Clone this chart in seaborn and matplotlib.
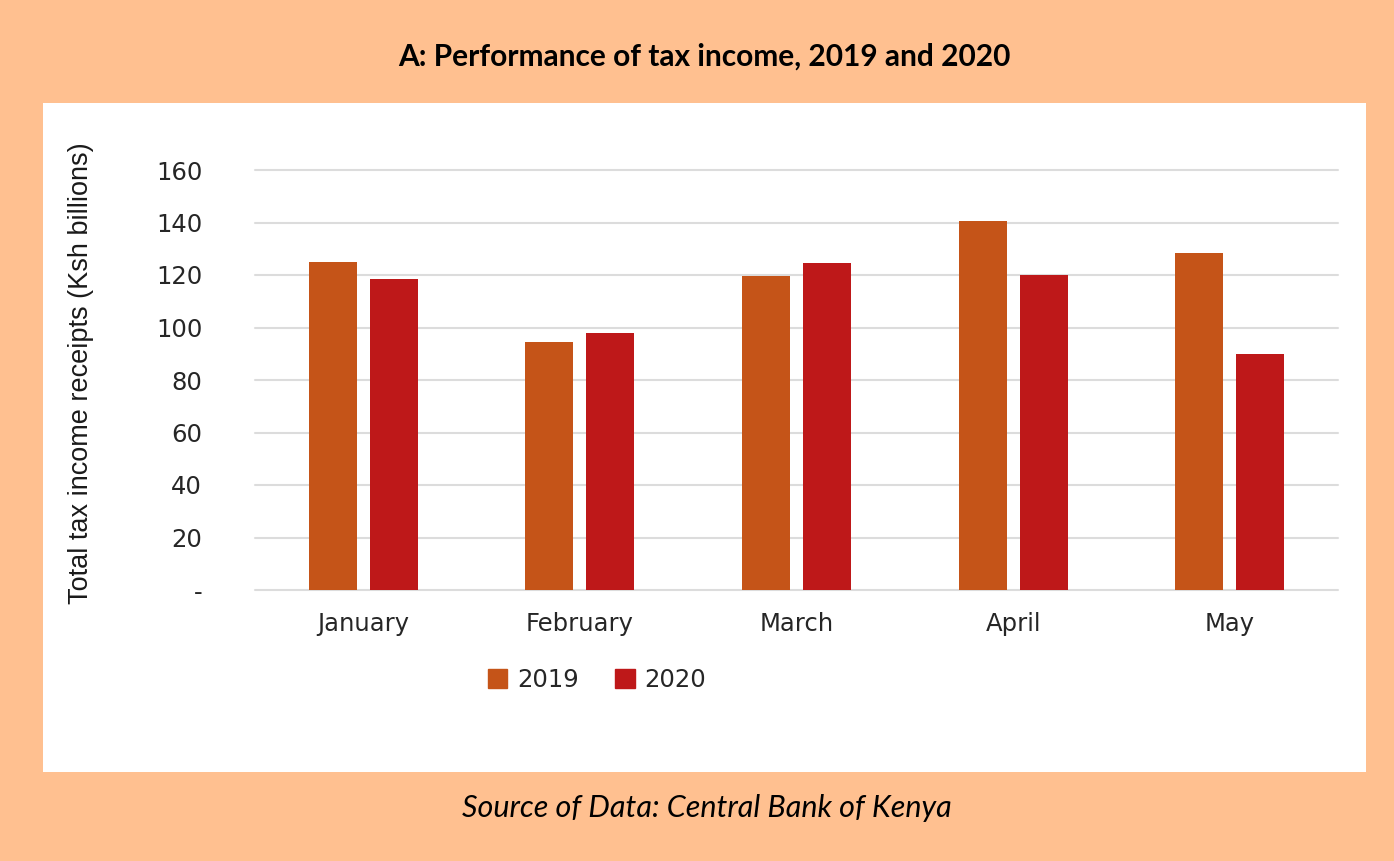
import pandas as pd
import matplotlib.pyplot as plt
import seaborn as sns
from matplotlib.patches import Rectangle
from matplotlib.ticker import FuncFormatter

months = ["January", "February", "March", "April", "May"]
tax_2019 = [125.0, 94.5, 119.6, 140.6, 128.5]
tax_2020 = [118.3, 97.8, 124.6, 120.1, 89.8]

df = pd.DataFrame({
    "month": months * 2,
    "year": ["2019"] * len(months) + ["2020"] * len(months),
    "value": tax_2019 + tax_2020,
})

sns.set_theme(style="white")
plt.rcParams["font.family"] = ["DejaVu Sans"]

W, H = 1394, 861
fig = plt.figure(figsize=(W / 100, H / 100), dpi=100)
fig.patch.set_facecolor("#FFC090")

# white inner panel
fig.patches.append(Rectangle((43 / W, 1 - 772 / H), (1366 - 43) / W, (772 - 103) / H,
                             transform=fig.transFigure, facecolor="white",
                             edgecolor="none", zorder=-5))

ax = fig.add_axes([255 / W, 1 - 590 / H, (1338 - 255) / W, (590 - 170) / H])
ax.set_facecolor("none")
ax.set_zorder(2)

palette = {"2019": "#C55418", "2020": "#BE1819"}
sns.barplot(data=df, x="month", y="value", hue="year", palette=palette,
            saturation=1, width=0.563, gap=0.213, linewidth=0,
            ax=ax, zorder=3, legend=False)

ax.set_xlim(-0.5, 4.5)
ax.set_ylim(0, 160)
ax.set_yticks(range(0, 161, 20))
ax.yaxis.set_major_formatter(FuncFormatter(lambda v, p: "-" if v == 0 else f"{int(v)}"))
ax.grid(axis="y", color="#DCDCDC", linewidth=1.5, zorder=0)
for ln in ax.get_ygridlines():
    ln.set_clip_on(False)
for s in ax.spines.values():
    s.set_visible(False)
ax.tick_params(axis="both", length=0, labelsize=17.5, colors="#262626")
ax.tick_params(axis="y", pad=38)
ax.tick_params(axis="x", pad=16)
ax.set_xlabel("")
ax.set_ylabel("")

fig.text(81 / W, 1 - 373 / H, "Total tax income receipts (Ksh billions)",
         rotation=90, ha="center", va="center", fontsize=19.5, color="#1a1a1a",
         family=["Liberation Sans", "DejaVu Sans"])

handles = [Rectangle((0, 0), 1, 1, color=palette[y]) for y in ["2019", "2020"]]
fig.legend(handles, ["2019", "2020"], loc="center", bbox_to_anchor=(597 / W, 1 - 680 / H),
           ncol=2, frameon=False, fontsize=17.5, handlelength=0.8, handleheight=0.8,
           handletextpad=0.4, columnspacing=1.5, labelcolor="#262626")

fig.text(704 / W, 1 - 57 / H, "A: Performance of tax income, 2019 and 2020",
         ha="center", va="center", fontsize=21.5, fontweight="bold", color="black",
         family=["Lato", "DejaVu Sans"])
fig.text(707 / W, 1 - 808 / H, "Source of Data: Central Bank of Kenya",
         ha="center", va="center", fontsize=22, style="italic", color="black",
         family=["Lato", "DejaVu Sans"])

fig.savefig("out.png", dpi=100, facecolor=fig.get_facecolor())
